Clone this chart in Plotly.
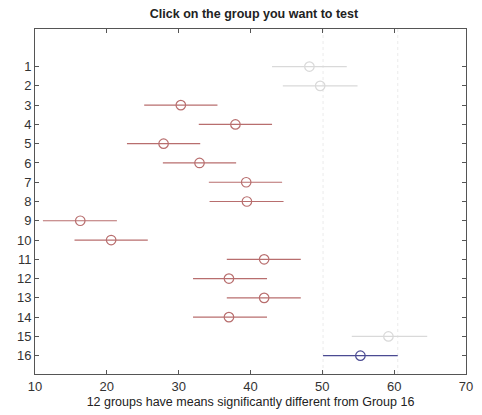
import plotly.graph_objects as go

groups = list(range(1, 17))
means = [48.2, 49.7, 30.3, 37.9, 27.9, 32.9, 39.4, 39.5, 16.3, 20.6, 41.9, 37.0, 41.9, 37.0, 59.2, 55.3]
lower = [43.0, 44.5, 25.2, 32.8, 22.8, 27.8, 34.2, 34.3, 11.1, 15.5, 36.7, 32.0, 36.7, 32.0, 54.1, 50.1]
upper = [53.4, 54.9, 35.4, 43.0, 33.0, 38.0, 44.4, 44.6, 21.4, 25.7, 47.0, 42.3, 47.0, 42.3, 64.6, 60.5]
status = ["same", "same", "diff", "diff", "diff", "diff", "diff", "diff", "diff", "diff",
          "diff", "diff", "diff", "diff", "same", "ref"]
x_ticks = [10, 20, 30, 40, 50, 60, 70]

colors = {"same": "#d9d9d9", "diff": "#b86e6e", "ref": "#4a4a92"}

fig = go.Figure()
for key in ["same", "diff", "ref"]:
    idx = [i for i, s in enumerate(status) if s == key]
    fig.add_trace(go.Scatter(
        x=[means[i] for i in idx],
        y=[groups[i] for i in idx],
        mode="markers",
        marker=dict(symbol="circle-open", size=9.5, color=colors[key], line=dict(width=1.2)),
        error_x=dict(type="data", symmetric=False,
                     array=[upper[i] - means[i] for i in idx],
                     arrayminus=[means[i] - lower[i] for i in idx],
                     width=0, thickness=1.2, color=colors[key]),
        showlegend=False, hoverinfo="x+y",
    ))

ref = status.index("ref")
for xv in (lower[ref], upper[ref]):
    fig.add_shape(type="line", x0=xv, x1=xv, y0=0, y1=1, xref="x", yref="paper",
                  line=dict(color="#ebebeb", width=1, dash="dot"), layer="below")

axis_common = dict(showline=True, linecolor="#555555", linewidth=1, mirror="ticks",
                   ticks="inside", ticklen=4, tickcolor="#555555", showgrid=False,
                   zeroline=False, tickfont=dict(family="Liberation Sans, Arial", size=13, color="#333333"))

fig.update_layout(
    width=482, height=415,
    margin=dict(l=35, r=9, t=29, b=41),
    paper_bgcolor="white", plot_bgcolor="white",
    title=dict(text="<b>Click on the group you want to test</b>", x=0.527, xanchor="center",
               y=0.967, yanchor="middle",
               font=dict(family="Liberation Sans, Arial", size=12.5, color="#222222")),
    xaxis=dict(range=[10, 70], tickvals=x_ticks, title=dict(
        text="12 groups have means significantly different from Group 16", standoff=4,
        font=dict(family="Liberation Sans, Arial", size=12.5, color="#222222")), **axis_common),
    yaxis=dict(range=[16.95, -0.95], tickvals=groups, ticktext=[str(g) for g in groups],
               **axis_common),
)

fig.write_html("out.html")
